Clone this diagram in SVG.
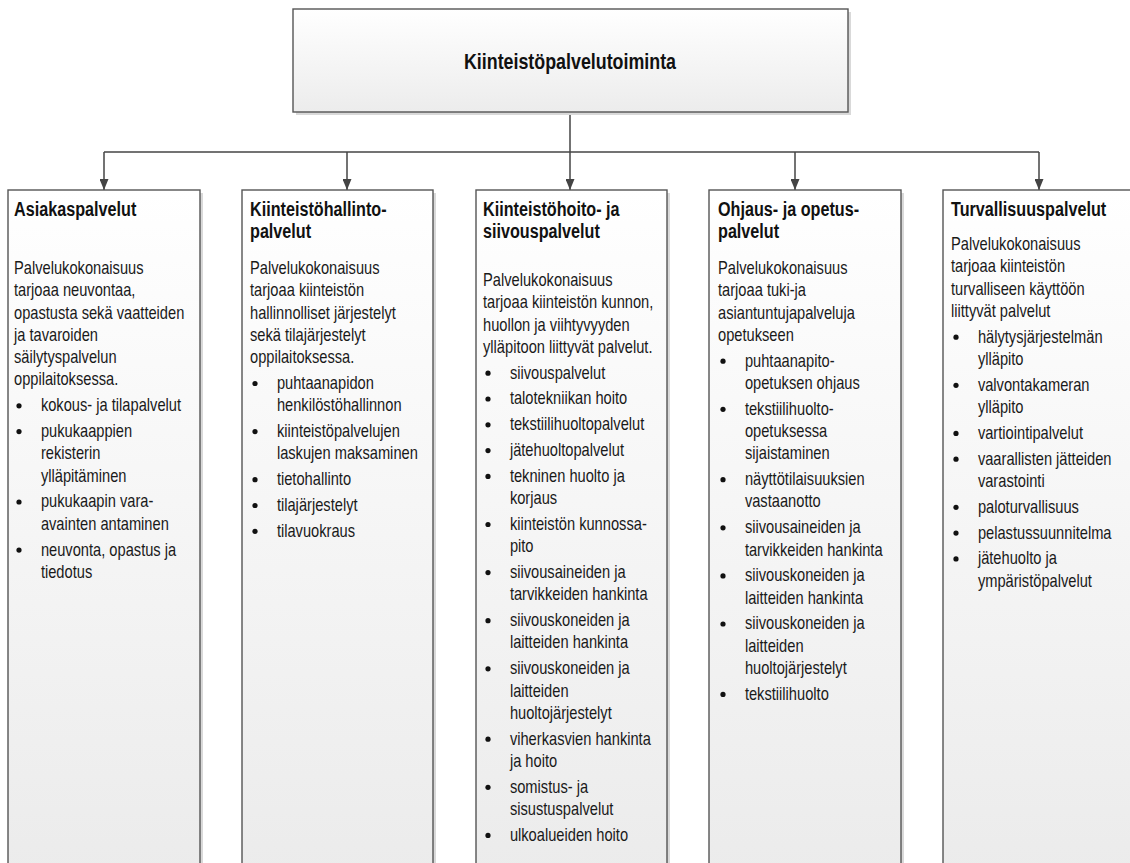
<svg xmlns="http://www.w3.org/2000/svg" width="1130" height="863" viewBox="0 0 1130 863">
<defs>
<linearGradient id="gBox" x1="0" y1="0" x2="0" y2="1">
<stop offset="0" stop-color="#ffffff"/>
<stop offset="1" stop-color="#ebebeb"/>
</linearGradient>
<linearGradient id="gTop" x1="0" y1="0" x2="0" y2="1">
<stop offset="0" stop-color="#ffffff"/>
<stop offset="1" stop-color="#ececec"/>
</linearGradient>
<marker id="arr" viewBox="0 0 11 9" refX="11" refY="4.5" markerWidth="11" markerHeight="9" markerUnits="userSpaceOnUse" orient="auto">
<path d="M0,0 L11,4.5 L0,9 z" fill="#444"/>
</marker>
<style>
.box{fill:url(#gBox);stroke:#555;stroke-width:1.4}
.top{fill:url(#gTop);stroke:#555;stroke-width:1.4}
.sh{fill:#d9d9d9}
.con{fill:none;stroke:#444;stroke-width:1.5}
.ttl{font-family:"Liberation Sans",Arial,sans-serif;font-weight:bold;font-size:19.5px;fill:#111}
.main{font-family:"Liberation Sans",Arial,sans-serif;font-weight:bold;font-size:21.5px;fill:#111}
.txt{font-family:"Liberation Sans",Arial,sans-serif;font-size:18px;fill:#1a1a1a}
.bul{fill:#111}
</style>
</defs>

<g id="connectors">
<path class="con" d="M570,112 V152"/>
<path class="con" d="M104,152 H1039"/>
<path class="con" d="M104,152 V190" marker-end="url(#arr)"/>
<path class="con" d="M347,152 V190" marker-end="url(#arr)"/>
<path class="con" d="M570,152 V190" marker-end="url(#arr)"/>
<path class="con" d="M795,152 V190" marker-end="url(#arr)"/>
<path class="con" d="M1039,152 V190" marker-end="url(#arr)"/>
</g>

<g id="root">
<rect class="sh" x="296" y="12" width="555" height="103"/>
<rect class="top" x="293" y="9" width="555" height="103"/>
<g transform="translate(570,0) scale(0.83,1)"><text class="main" x="0" y="69.5" text-anchor="middle">Kiinteistöpalvelutoiminta</text></g>
</g>

<g id="asiakaspalvelut">
<rect class="sh" x="11" y="193" width="192" height="690"/>
<rect class="box" x="8" y="190" width="192" height="690"/>
<g transform="translate(14,0) scale(0.83,1)">
<text class="ttl" x="0" y="216">Asiakaspalvelut</text>
</g>
<g transform="translate(14,0) scale(0.815,1)">
<text class="txt">
<tspan x="0" y="274">Palvelukokonaisuus</tspan>
<tspan x="0" y="296.3">tarjoaa neuvontaa,</tspan>
<tspan x="0" y="318.6">opastusta sekä vaatteiden</tspan>
<tspan x="0" y="340.9">ja tavaroiden</tspan>
<tspan x="0" y="363.2">säilytyspalvelun</tspan>
<tspan x="0" y="385.5">oppilaitoksessa.</tspan>
<tspan x="33" y="411.3">kokous- ja tilapalvelut</tspan>
<tspan x="33" y="437.1">pukukaappien</tspan>
<tspan x="33" y="459.4">rekisterin</tspan>
<tspan x="33" y="481.7">ylläpitäminen</tspan>
<tspan x="33" y="507.5">pukukaapin vara-</tspan>
<tspan x="33" y="529.8">avainten antaminen</tspan>
<tspan x="33" y="555.6">neuvonta, opastus ja</tspan>
<tspan x="33" y="577.9">tiedotus</tspan>
</text>
</g>
<g class="bul">
<circle cx="19" cy="405.8" r="2.6"/>
<circle cx="19" cy="431.6" r="2.6"/>
<circle cx="19" cy="502" r="2.6"/>
<circle cx="19" cy="550.1" r="2.6"/>
</g>
</g>

<g id="kiinteistohallinto">
<rect class="sh" x="245" y="193" width="191" height="690"/>
<rect class="box" x="242" y="190" width="191" height="690"/>
<g transform="translate(250,0) scale(0.83,1)">
<text class="ttl"><tspan x="0" y="216">Kiinteistöhallinto-</tspan><tspan x="0" y="238">palvelut</tspan></text>
</g>
<g transform="translate(250,0) scale(0.815,1)">
<text class="txt">
<tspan x="0" y="274">Palvelukokonaisuus</tspan>
<tspan x="0" y="296.3">tarjoaa kiinteistön</tspan>
<tspan x="0" y="318.6">hallinnolliset järjestelyt</tspan>
<tspan x="0" y="340.9">sekä tilajärjestelyt</tspan>
<tspan x="0" y="363.2">oppilaitoksessa.</tspan>
<tspan x="33" y="389">puhtaanapidon</tspan>
<tspan x="33" y="411.3">henkilöstöhallinnon</tspan>
<tspan x="33" y="437.1">kiinteistöpalvelujen</tspan>
<tspan x="33" y="459.4">laskujen maksaminen</tspan>
<tspan x="33" y="485.2">tietohallinto</tspan>
<tspan x="33" y="511">tilajärjestelyt</tspan>
<tspan x="33" y="536.8">tilavuokraus</tspan>
</text>
</g>
<g class="bul">
<circle cx="255" cy="383.5" r="2.6"/>
<circle cx="255" cy="431.6" r="2.6"/>
<circle cx="255" cy="479.7" r="2.6"/>
<circle cx="255" cy="505.5" r="2.6"/>
<circle cx="255" cy="531.3" r="2.6"/>
</g>
</g>

<g id="kiinteistohoito">
<rect class="sh" x="479" y="193" width="191" height="690"/>
<rect class="box" x="476" y="190" width="191" height="690"/>
<g transform="translate(483,0) scale(0.83,1)">
<text class="ttl"><tspan x="0" y="216">Kiinteistöhoito- ja</tspan><tspan x="0" y="238">siivouspalvelut</tspan></text>
</g>
<g transform="translate(483,0) scale(0.815,1)">
<text class="txt">
<tspan x="0" y="286">Palvelukokonaisuus</tspan>
<tspan x="0" y="308.3">tarjoaa kiinteistön kunnon,</tspan>
<tspan x="0" y="330.6">huollon ja viihtyvyyden</tspan>
<tspan x="0" y="352.9">ylläpitoon liittyvät palvelut.</tspan>
<tspan x="33" y="378.7">siivouspalvelut</tspan>
<tspan x="33" y="404.5">talotekniikan hoito</tspan>
<tspan x="33" y="430.3">tekstiilihuoltopalvelut</tspan>
<tspan x="33" y="456.1">jätehuoltopalvelut</tspan>
<tspan x="33" y="481.9">tekninen huolto ja</tspan>
<tspan x="33" y="504.2">korjaus</tspan>
<tspan x="33" y="530">kiinteistön kunnossa-</tspan>
<tspan x="33" y="552.3">pito</tspan>
<tspan x="33" y="578.1">siivousaineiden ja</tspan>
<tspan x="33" y="600.4">tarvikkeiden hankinta</tspan>
<tspan x="33" y="626.2">siivouskoneiden ja</tspan>
<tspan x="33" y="648.5">laitteiden hankinta</tspan>
<tspan x="33" y="674.3">siivouskoneiden ja</tspan>
<tspan x="33" y="696.6">laitteiden</tspan>
<tspan x="33" y="718.9">huoltojärjestelyt</tspan>
<tspan x="33" y="744.7">viherkasvien hankinta</tspan>
<tspan x="33" y="767">ja hoito</tspan>
<tspan x="33" y="792.8">somistus- ja</tspan>
<tspan x="33" y="815.1">sisustuspalvelut</tspan>
<tspan x="33" y="840.9">ulkoalueiden hoito</tspan>
</text>
</g>
<g class="bul">
<circle cx="488" cy="373.2" r="2.6"/>
<circle cx="488" cy="399" r="2.6"/>
<circle cx="488" cy="424.8" r="2.6"/>
<circle cx="488" cy="450.6" r="2.6"/>
<circle cx="488" cy="476.4" r="2.6"/>
<circle cx="488" cy="524.5" r="2.6"/>
<circle cx="488" cy="572.6" r="2.6"/>
<circle cx="488" cy="620.7" r="2.6"/>
<circle cx="488" cy="668.8" r="2.6"/>
<circle cx="488" cy="739.2" r="2.6"/>
<circle cx="488" cy="787.3" r="2.6"/>
<circle cx="488" cy="835.4" r="2.6"/>
</g>
</g>

<g id="ohjaus">
<rect class="sh" x="712" y="193" width="192" height="690"/>
<rect class="box" x="709" y="190" width="192" height="690"/>
<g transform="translate(718,0) scale(0.83,1)">
<text class="ttl"><tspan x="0" y="216">Ohjaus- ja opetus-</tspan><tspan x="0" y="238">palvelut</tspan></text>
</g>
<g transform="translate(718,0) scale(0.815,1)">
<text class="txt">
<tspan x="0" y="274">Palvelukokonaisuus</tspan>
<tspan x="0" y="296.3">tarjoaa tuki-ja</tspan>
<tspan x="0" y="318.6">asiantuntujapalveluja</tspan>
<tspan x="0" y="340.9">opetukseen</tspan>
<tspan x="33" y="366.7">puhtaanapito-</tspan>
<tspan x="33" y="389">opetuksen ohjaus</tspan>
<tspan x="33" y="414.8">tekstiilihuolto-</tspan>
<tspan x="33" y="437.1">opetuksessa</tspan>
<tspan x="33" y="459.4">sijaistaminen</tspan>
<tspan x="33" y="485.2">näyttötilaisuuksien</tspan>
<tspan x="33" y="507.5">vastaanotto</tspan>
<tspan x="33" y="533.3">siivousaineiden ja</tspan>
<tspan x="33" y="555.6">tarvikkeiden hankinta</tspan>
<tspan x="33" y="581.4">siivouskoneiden ja</tspan>
<tspan x="33" y="603.7">laitteiden hankinta</tspan>
<tspan x="33" y="629.5">siivouskoneiden ja</tspan>
<tspan x="33" y="651.8">laitteiden</tspan>
<tspan x="33" y="674.1">huoltojärjestelyt</tspan>
<tspan x="33" y="699.9">tekstiilihuolto</tspan>
</text>
</g>
<g class="bul">
<circle cx="723" cy="361.2" r="2.6"/>
<circle cx="723" cy="409.3" r="2.6"/>
<circle cx="723" cy="479.7" r="2.6"/>
<circle cx="723" cy="527.8" r="2.6"/>
<circle cx="723" cy="575.9" r="2.6"/>
<circle cx="723" cy="624" r="2.6"/>
<circle cx="723" cy="694.4" r="2.6"/>
</g>
</g>

<g id="turvallisuus">
<rect class="sh" x="946" y="193" width="192" height="690"/>
<rect class="box" x="943" y="190" width="192" height="690"/>
<g transform="translate(951,0) scale(0.83,1)">
<text class="ttl" x="0" y="216">Turvallisuuspalvelut</text>
</g>
<g transform="translate(951,0) scale(0.815,1)">
<text class="txt">
<tspan x="0" y="250">Palvelukokonaisuus</tspan>
<tspan x="0" y="272.3">tarjoaa kiinteistön</tspan>
<tspan x="0" y="294.6">turvalliseen käyttöön</tspan>
<tspan x="0" y="316.9">liittyvät palvelut</tspan>
<tspan x="33" y="342.7">hälytysjärjestelmän</tspan>
<tspan x="33" y="365">ylläpito</tspan>
<tspan x="33" y="390.8">valvontakameran</tspan>
<tspan x="33" y="413.1">ylläpito</tspan>
<tspan x="33" y="438.9">vartiointipalvelut</tspan>
<tspan x="33" y="464.7">vaarallisten jätteiden</tspan>
<tspan x="33" y="487">varastointi</tspan>
<tspan x="33" y="512.8">paloturvallisuus</tspan>
<tspan x="33" y="538.6">pelastussuunnitelma</tspan>
<tspan x="33" y="564.4">jätehuolto ja</tspan>
<tspan x="33" y="586.7">ympäristöpalvelut</tspan>
</text>
</g>
<g class="bul">
<circle cx="956" cy="337.2" r="2.6"/>
<circle cx="956" cy="385.3" r="2.6"/>
<circle cx="956" cy="433.4" r="2.6"/>
<circle cx="956" cy="459.2" r="2.6"/>
<circle cx="956" cy="507.3" r="2.6"/>
<circle cx="956" cy="533.1" r="2.6"/>
<circle cx="956" cy="558.9" r="2.6"/>
</g>
</g>
</svg>
